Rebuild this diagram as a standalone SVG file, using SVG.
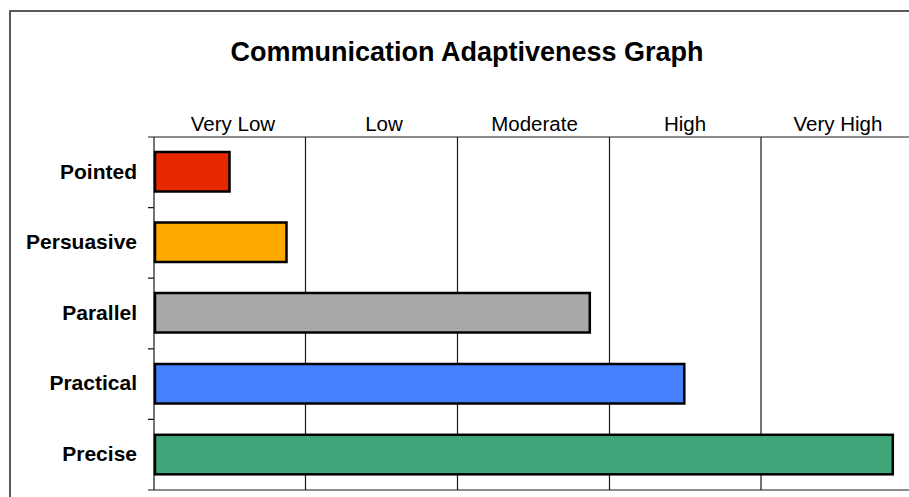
<svg xmlns="http://www.w3.org/2000/svg" width="909" height="497" viewBox="0 0 909 497">
<style>
.t{font-family:"Liberation Sans",Arial,sans-serif;fill:#000}
.title{font-size:27px;font-weight:bold;text-anchor:middle}
.cat{font-size:20.5px;text-anchor:middle}
.row{font-size:21px;font-weight:bold;text-anchor:end}
.grid{stroke:#1a1a1a;stroke-width:1.2;fill:none}
.bar{stroke:#000;stroke-width:2.5}
</style>
<rect width="909" height="497" fill="#fff"/>
<rect x="10" y="11" width="920" height="500" fill="none" stroke="#333" stroke-width="1.6"/>
<text class="t title" x="467" y="61">Communication Adaptiveness Graph</text>
<g id="axis-labels">
<text class="t cat" x="233" y="131">Very Low</text>
<text class="t cat" x="384" y="131">Low</text>
<text class="t cat" x="534.5" y="131">Moderate</text>
<text class="t cat" x="685" y="131">High</text>
<text class="t cat" x="838" y="131">Very High</text>
</g>
<g id="grid">
<path class="grid" d="M148 137H909M148 490H909M154 137V490M305.5 137V490M457.5 137V490M609.5 137V490M761 137V490M148 207.6H154M148 278.2H154M148 348.8H154M148 419.4H154"/>
</g>
<g id="pointed">
<text class="t row" x="137" y="178.5">Pointed</text>
<rect class="bar" x="155" y="152" width="74.5" height="39.5" fill="#E62800"/>
</g>
<g id="persuasive">
<text class="t row" x="137" y="249">Persuasive</text>
<rect class="bar" x="155" y="222.5" width="131.5" height="39.5" fill="#FFA800"/>
</g>
<g id="parallel">
<text class="t row" x="137" y="319.5">Parallel</text>
<rect class="bar" x="155" y="293" width="434.8" height="39.5" fill="#A8A8A8"/>
</g>
<g id="practical">
<text class="t row" x="137" y="390">Practical</text>
<rect class="bar" x="155" y="364" width="529.3" height="39.5" fill="#4580FF"/>
</g>
<g id="precise">
<text class="t row" x="137" y="461">Precise</text>
<rect class="bar" x="155" y="434.8" width="737.8" height="39.5" fill="#3FA67A"/>
</g>
</svg>
